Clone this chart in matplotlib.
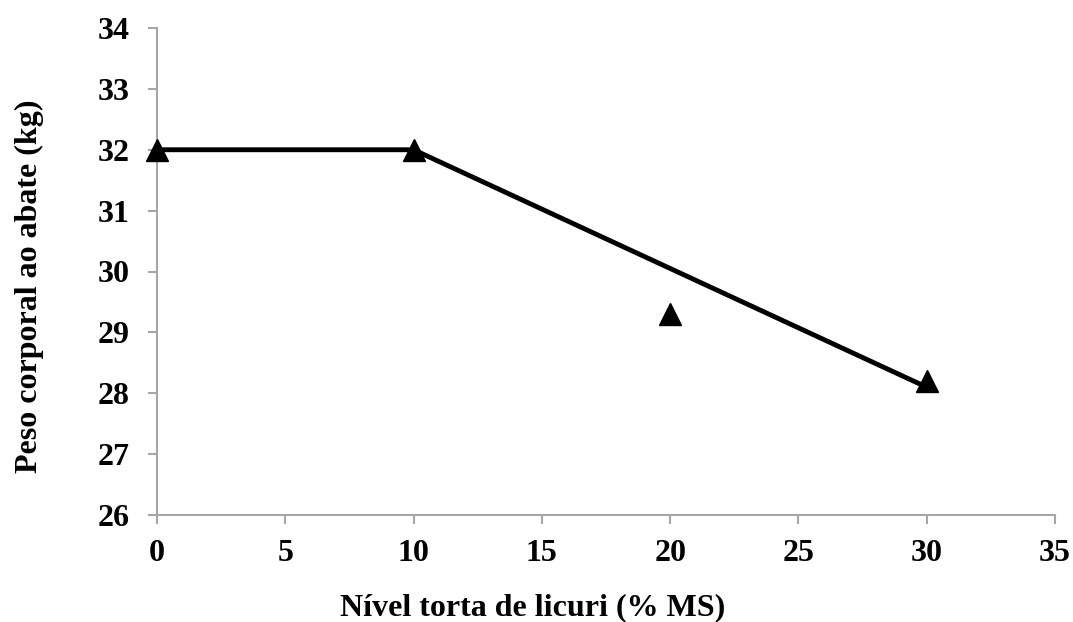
import matplotlib.pyplot as plt

# Observed means
nivel = [0, 10, 20, 30]
peso = [32.0, 32.0, 29.3, 28.2]

# Fitted plateau model
ajuste_x = [0, 10, 30]
ajuste_y = [32.0, 32.0, 28.1]

plt.rcParams['font.family'] = ['Liberation Serif', 'DejaVu Serif']
plt.rcParams['font.weight'] = 'bold'

fig = plt.figure(figsize=(10.73, 6.22), dpi=100)
ax = fig.add_axes([157 / 1073, 1 - 515 / 622, (1055 - 157) / 1073, (515 - 28) / 622])

ax.plot(ajuste_x, ajuste_y, color='black', lw=3.5, zorder=2)
ax.plot(nivel, peso, ls='none', marker='^', ms=16, color='black', zorder=3, clip_on=False)

ax.set_xlim(0, 35)
ax.set_ylim(26, 34)
ax.set_xticks(range(0, 36, 5))
ax.set_yticks(range(26, 35))

for s in ['top', 'right']:
    ax.spines[s].set_visible(False)
for s in ['left', 'bottom']:
    ax.spines[s].set_color('#a6a6a6')
    ax.spines[s].set_linewidth(1.5)

ax.tick_params(axis='both', direction='out', length=6.5, width=1.5, color='#a6a6a6',
               labelsize=23)
ax.tick_params(axis='x', pad=11)
ax.tick_params(axis='y', pad=13)
for lab in ax.get_xticklabels() + ax.get_yticklabels():
    lab.set_fontweight('bold')

# axis titles sit off-centre, like in the original spreadsheet chart
ax.set_xlabel('Nível torta de licuri (% MS)', fontsize=23, fontweight='bold', labelpad=18)
ax.set_ylabel('Peso corporal ao abate (kg)', fontsize=23, fontweight='bold', labelpad=39)
ax.xaxis.label.set_x(0.418)
ax.yaxis.label.set_y(0.47)

fig.savefig('out.png', dpi=100)
